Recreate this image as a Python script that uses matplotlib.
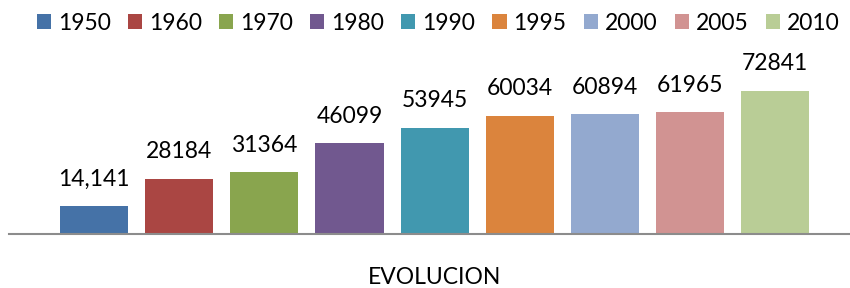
#!/usr/bin/env python3
'''Bar chart: EVOLUCION by year, one series per year (Excel style).'''

import matplotlib
matplotlib.use('Agg')
import matplotlib.pyplot as plt
from matplotlib.patches import Patch

YEARS = ['1950', '1960', '1970', '1980', '1990', '1995', '2000', '2005', '2010']
VALUES = [14141, 28184, 31364, 46099, 53945, 60034, 60894, 61965, 72841]
LABELS = ['14,141', '28184', '31364', '46099', '53945', '60034', '60894', '61965', '72841']
COLORS = ['#4572A7', '#AA4643', '#89A54E', '#71588F', '#4198AF',
          '#DB843D', '#93A9CF', '#D19392', '#B9CD96']
CATEGORY = 'EVOLUCION'

plt.rcParams['font.family'] = ['Lato', 'DejaVu Sans']
FS = 16.5

fig = plt.figure(figsize=(8.5, 2.88), dpi=100)
ax = fig.add_axes([9 / 850, 54 / 288, 841 / 850, 194 / 288])

xs = list(range(len(VALUES)))
for x, v, lab, c in zip(xs, VALUES, LABELS, COLORS):
    ax.bar(x, v, width=0.8, color=c)
    ax.annotate(lab, (x, v), xytext=(0, 12), textcoords='offset points',
                ha='center', va='bottom', fontsize=FS, color='black')

ax.set_xlim(-1.0, 8.88)
ax.set_ylim(0, 72841 * 194 / 143)
for s in ('top', 'right', 'left'):
    ax.spines[s].set_visible(False)
ax.spines['bottom'].set_color('#8c8c8c')
ax.spines['bottom'].set_linewidth(1.5)
ax.set_xticks([])
ax.set_yticks([])

fig.text(435 / 850, 1 - 278 / 288, CATEGORY, ha='center', va='center', fontsize=FS)

handles = [Patch(facecolor=c, edgecolor='none') for c in COLORS]
fig.legend(handles, YEARS, loc='center', bbox_to_anchor=(438 / 850, 1 - 23 / 288),
           ncol=len(YEARS), frameon=False, fontsize=FS, handlelength=0.62,
           handleheight=0.62, handletextpad=0.3, columnspacing=0.75, borderpad=0,
           borderaxespad=0)

fig.savefig('out.png', dpi=100)
